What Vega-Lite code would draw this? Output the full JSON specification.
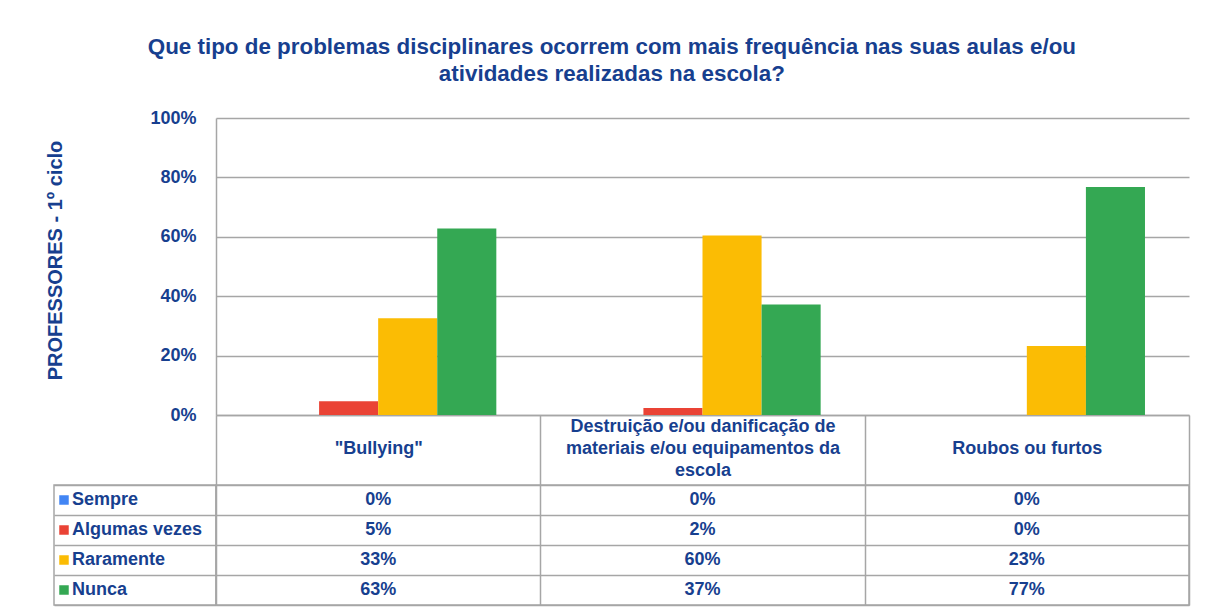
{
  "$schema": "https://vega.github.io/schema/vega-lite/v6.json",
  "padding": {"left": 45, "top": 35, "right": 5, "bottom": 5},
  "background": "white",
  "title": {
    "text": ["Que tipo de problemas disciplinares ocorrem com mais frequência nas suas aulas e/ou", "atividades realizadas na escola?"],
    "font": "Liberation Sans",
    "fontSize": 22.4,
    "fontWeight": "bold",
    "color": "#173F8F",
    "lineHeight": 27,
    "anchor": "middle",
    "offset": 24,
    "dx": -6
  },
  "config": {
    "view": {"stroke": null},
    "font": "Liberation Sans"
  },
  "datasets": {
    "dados": [
      {"categoria": "\"Bullying\"", "serie": "Sempre", "valor": 0},
      {"categoria": "\"Bullying\"", "serie": "Algumas vezes", "valor": 0.0465},
      {"categoria": "\"Bullying\"", "serie": "Raramente", "valor": 0.3256},
      {"categoria": "\"Bullying\"", "serie": "Nunca", "valor": 0.6279},
      {"categoria": "Destruição e/ou danificação de materiais e/ou equipamentos da escola", "serie": "Sempre", "valor": 0},
      {"categoria": "Destruição e/ou danificação de materiais e/ou equipamentos da escola", "serie": "Algumas vezes", "valor": 0.0233},
      {"categoria": "Destruição e/ou danificação de materiais e/ou equipamentos da escola", "serie": "Raramente", "valor": 0.6047},
      {"categoria": "Destruição e/ou danificação de materiais e/ou equipamentos da escola", "serie": "Nunca", "valor": 0.3721},
      {"categoria": "Roubos ou furtos", "serie": "Sempre", "valor": 0},
      {"categoria": "Roubos ou furtos", "serie": "Algumas vezes", "valor": 0},
      {"categoria": "Roubos ou furtos", "serie": "Raramente", "valor": 0.2326},
      {"categoria": "Roubos ou furtos", "serie": "Nunca", "valor": 0.7674}
    ]
  },
  "columns": 2,
  "bounds": "flush",
  "spacing": {"row": 70, "column": 0},
  "resolve": {
    "scale": {"x": "independent", "y": "independent", "xOffset": "independent", "color": "independent"},
    "axis": {"x": "independent", "y": "independent"},
    "legend": {"color": "independent"}
  },
  "concat": [
    {
      "width": 162,
      "height": 297,
      "data": {"values": []},
      "mark": {"type": "text", "text": ""}
    },
    {
      "width": 973,
      "height": 297,
      "data": {"name": "dados"},
      "mark": {"type": "bar"},
      "encoding": {
        "x": {
          "field": "categoria",
          "type": "nominal",
          "sort": null,
          "scale": {"paddingInner": 0, "paddingOuter": 0},
          "axis": {
            "title": null,
            "tickBand": "extent",
            "ticks": true,
            "tickSize": 70,
            "tickColor": "#A6A6A6",
            "tickWidth": 1.5,
            "domainColor": "#A6A6A6",
            "domainWidth": 1.5,
            "labelAngle": 0,
            "labelBaseline": "middle",
            "labelPadding": -59,
            "labelFontSize": 18,
            "labelFontWeight": "bold",
            "labelColor": "#173F8F",
            "labelLimit": 330,
            "labelLineHeight": 22,
            "labelOverlap": false,
            "labelExpr": "indexof(datum.label, 'Destruição') == 0 ? ['Destruição e/ou danificação de', 'materiais e/ou equipamentos da', 'escola'] : ['', datum.label, '']"
          }
        },
        "xOffset": {
          "field": "serie",
          "type": "nominal",
          "sort": ["Sempre", "Algumas vezes", "Raramente", "Nunca"],
          "scale": {"paddingInner": 0, "paddingOuter": 0.745}
        },
        "y": {
          "field": "valor",
          "type": "quantitative",
          "scale": {"domain": [0, 1]},
          "axis": {
            "values": [0, 0.2, 0.4, 0.6, 0.8, 1],
            "format": ".0%",
            "title": "PROFESSORES - 1º ciclo",
            "titleFontSize": 20,
            "titleFontWeight": "bold",
            "titleColor": "#173F8F",
            "titlePadding": 84,
            "titleY": 142,
            "labelFontSize": 18,
            "labelFontWeight": "bold",
            "labelColor": "#173F8F",
            "labelPadding": 20,
            "ticks": false,
            "domainColor": "#A6A6A6",
            "domainWidth": 1.5,
            "gridColor": "#A6A6A6",
            "gridWidth": 1.3
          }
        },
        "color": {
          "field": "serie",
          "type": "nominal",
          "scale": {"domain": ["Sempre", "Algumas vezes", "Raramente", "Nunca"], "range": ["#4285F4", "#EA4335", "#FBBC04", "#34A853"]},
          "legend": null
        }
      }
    },
    {
      "width": 162,
      "height": 120,
      "view": {"stroke": "#A6A6A6", "strokeWidth": 1.5},
      "data": {"name": "dados"},
      "mark": {"type": "text", "text": ""},
      "encoding": {
        "y": {
          "field": "serie",
          "type": "nominal",
          "sort": ["Sempre", "Algumas vezes", "Raramente", "Nunca"],
          "scale": {"paddingInner": 0, "paddingOuter": 0},
          "axis": {"title": null, "tickBand": "extent", "grid": true, "gridColor": "#A6A6A6", "gridWidth": 1.5, "labels": false, "ticks": false, "domain": false}
        },
        "color": {
          "field": "serie",
          "type": "nominal",
          "scale": {"domain": ["Sempre", "Algumas vezes", "Raramente", "Nunca"], "range": ["#4285F4", "#EA4335", "#FBBC04", "#34A853"]},
          "legend": {
            "title": null,
            "orient": "top-left",
            "offset": 0,
            "padding": 0,
            "clipHeight": 30,
            "rowPadding": 0,
            "symbolType": "square",
            "symbolSize": 90,
            "symbolStrokeWidth": 0,
            "symbolOffset": 1,
            "labelOffset": -1,
            "labelFontSize": 18,
            "labelFontWeight": "bold",
            "labelColor": "#173F8F",
            "labelLimit": 200
          }
        }
      }
    },
    {
      "width": 973,
      "height": 120,
      "view": {"stroke": "#A6A6A6", "strokeWidth": 1.5},
      "data": {"name": "dados"},
      "mark": {"type": "text", "fontSize": 18, "fontWeight": "bold", "color": "#173F8F"},
      "encoding": {
        "x": {
          "field": "categoria",
          "type": "nominal",
          "sort": null,
          "scale": {"paddingInner": 0, "paddingOuter": 0},
          "axis": {"title": null, "tickBand": "extent", "grid": true, "gridColor": "#A6A6A6", "gridWidth": 1.5, "labels": false, "ticks": false, "domain": false}
        },
        "y": {
          "field": "serie",
          "type": "nominal",
          "sort": ["Sempre", "Algumas vezes", "Raramente", "Nunca"],
          "scale": {"paddingInner": 0, "paddingOuter": 0},
          "axis": {"title": null, "tickBand": "extent", "grid": true, "gridColor": "#A6A6A6", "gridWidth": 1.5, "labels": false, "ticks": false, "domain": false}
        },
        "text": {"field": "valor", "type": "quantitative", "format": ".0%"}
      }
    }
  ]
}
